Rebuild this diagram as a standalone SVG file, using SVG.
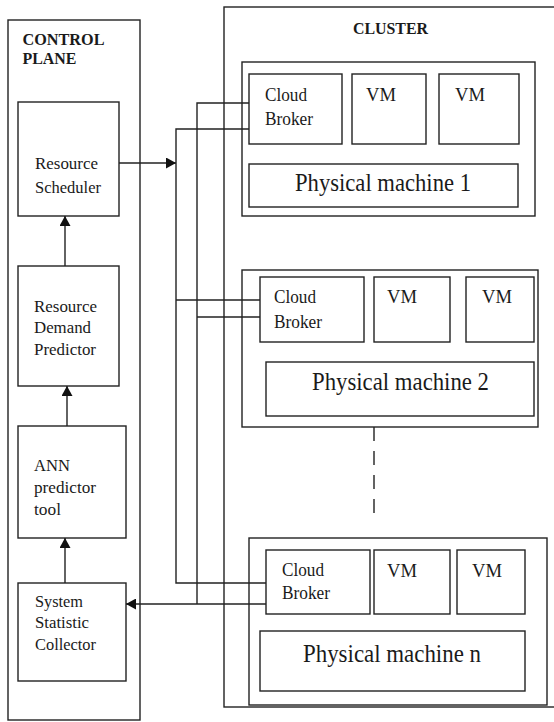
<svg xmlns="http://www.w3.org/2000/svg" width="554" height="722" viewBox="0 0 554 722">
<style>
  .box{fill:#fff;stroke:#222;stroke-width:1.4}
  .frame{fill:none;stroke:#222;stroke-width:1.4}
  .wire{fill:none;stroke:#222;stroke-width:1.4}
  text{fill:#1a1a1a}
  .cp{font-size:17.5px}
  .cl{font-size:18.5px}
  .pm{font-size:25px}
  .hd{font-size:17.5px;font-weight:bold}
</style>
<defs>
  <marker id="ah" markerUnits="userSpaceOnUse" markerWidth="11" markerHeight="11" refX="10" refY="5.5" orient="auto">
    <path d="M0,0 L10,5.5 L0,11 Z" fill="#111"/>
  </marker>
</defs>
<rect width="554" height="722" fill="#fff"/>
<g font-family="Liberation Serif, Times New Roman, serif">
<g id="control-plane">
  <rect class="frame" x="8" y="20" width="132" height="700"/>
  <text class="hd" x="22.5" y="45" textLength="82" lengthAdjust="spacingAndGlyphs">CONTROL</text>
  <text class="hd" x="22.5" y="63.5" textLength="54" lengthAdjust="spacingAndGlyphs">PLANE</text>
</g>

<g id="cluster">
  <rect class="frame" x="224" y="7" width="340" height="700"/>
  <text class="hd" x="353" y="34" textLength="75" lengthAdjust="spacingAndGlyphs">CLUSTER</text>
</g>

<g id="resource-scheduler">
  <rect class="box" x="18" y="102" width="101" height="114"/>
  <text class="cp" x="35" y="169" textLength="63" lengthAdjust="spacingAndGlyphs">Resource</text>
  <text class="cp" x="35" y="193" textLength="66" lengthAdjust="spacingAndGlyphs">Scheduler</text>
</g>

<g id="resource-demand-predictor">
  <rect class="box" x="18" y="266" width="101" height="120"/>
  <text class="cp" x="34" y="312" textLength="63" lengthAdjust="spacingAndGlyphs">Resource</text>
  <text class="cp" x="34" y="333" textLength="57" lengthAdjust="spacingAndGlyphs">Demand</text>
  <text class="cp" x="34" y="355" textLength="62" lengthAdjust="spacingAndGlyphs">Predictor</text>
</g>

<g id="ann-predictor-tool">
  <rect class="box" x="18" y="426" width="108" height="112"/>
  <text class="cp" x="34" y="471" textLength="36" lengthAdjust="spacingAndGlyphs">ANN</text>
  <text class="cp" x="34" y="493" textLength="62" lengthAdjust="spacingAndGlyphs">predictor</text>
  <text class="cp" x="34" y="515" textLength="27" lengthAdjust="spacingAndGlyphs">tool</text>
</g>

<g id="system-statistic-collector">
  <rect class="box" x="18" y="583" width="108" height="98"/>
  <text class="cp" x="35" y="607" textLength="48" lengthAdjust="spacingAndGlyphs">System</text>
  <text class="cp" x="35" y="628" textLength="54" lengthAdjust="spacingAndGlyphs">Statistic</text>
  <text class="cp" x="35" y="650" textLength="61" lengthAdjust="spacingAndGlyphs">Collector</text>
</g>

<g id="physical-machine-1">
  <rect class="box" x="242" y="62" width="293" height="154"/>
  <g id="cloud-broker-1">
    <rect class="box" x="249" y="74" width="93" height="70"/>
    <text class="cl" x="265" y="101" textLength="42" lengthAdjust="spacingAndGlyphs">Cloud</text>
    <text class="cl" x="265" y="125" textLength="48" lengthAdjust="spacingAndGlyphs">Broker</text>
  </g>
  <g id="vm-1a">
    <rect class="box" x="352" y="74" width="74" height="70"/>
    <text class="cl" x="366" y="101" textLength="30" lengthAdjust="spacingAndGlyphs">VM</text>
  </g>
  <g id="vm-1b">
    <rect class="box" x="439" y="74" width="80" height="70"/>
    <text class="cl" x="455" y="101" textLength="30" lengthAdjust="spacingAndGlyphs">VM</text>
  </g>
  <rect class="box" x="249" y="164" width="269" height="43"/>
  <text class="pm" x="295" y="191" textLength="176" lengthAdjust="spacingAndGlyphs">Physical machine 1</text>
</g>

<g id="physical-machine-2">
  <rect class="box" x="242" y="270" width="296" height="157"/>
  <g id="cloud-broker-2">
    <rect class="box" x="260" y="277" width="104" height="65"/>
    <text class="cl" x="274" y="303" textLength="42" lengthAdjust="spacingAndGlyphs">Cloud</text>
    <text class="cl" x="274" y="328" textLength="48" lengthAdjust="spacingAndGlyphs">Broker</text>
  </g>
  <g id="vm-2a">
    <rect class="box" x="374" y="277" width="76" height="65"/>
    <text class="cl" x="387" y="303" textLength="30" lengthAdjust="spacingAndGlyphs">VM</text>
  </g>
  <g id="vm-2b">
    <rect class="box" x="466" y="277" width="68" height="65"/>
    <text class="cl" x="482" y="303" textLength="30" lengthAdjust="spacingAndGlyphs">VM</text>
  </g>
  <rect class="box" x="266" y="362" width="268" height="54"/>
  <text class="pm" x="312" y="390" textLength="177" lengthAdjust="spacingAndGlyphs">Physical machine 2</text>
</g>

<g id="physical-machine-n">
  <rect class="box" x="249" y="538" width="298" height="167"/>
  <g id="cloud-broker-n">
    <rect class="box" x="266" y="550" width="104" height="64"/>
    <text class="cl" x="282" y="576" textLength="42" lengthAdjust="spacingAndGlyphs">Cloud</text>
    <text class="cl" x="282" y="599" textLength="48" lengthAdjust="spacingAndGlyphs">Broker</text>
  </g>
  <g id="vm-na">
    <rect class="box" x="374" y="550" width="76" height="64"/>
    <text class="cl" x="387" y="577" textLength="30" lengthAdjust="spacingAndGlyphs">VM</text>
  </g>
  <g id="vm-nb">
    <rect class="box" x="457" y="550" width="68" height="64"/>
    <text class="cl" x="472" y="577" textLength="30" lengthAdjust="spacingAndGlyphs">VM</text>
  </g>
  <rect class="box" x="260" y="631" width="265" height="60"/>
  <text class="pm" x="303" y="662" textLength="178" lengthAdjust="spacingAndGlyphs">Physical machine n</text>
</g>
</g>

<g id="connectors">
  <line class="wire" x1="65" y1="266" x2="65" y2="216" marker-end="url(#ah)"/>
  <line class="wire" x1="67" y1="426" x2="67" y2="386" marker-end="url(#ah)"/>
  <line class="wire" x1="65" y1="583" x2="65" y2="538" marker-end="url(#ah)"/>
  <line class="wire" x1="119" y1="163" x2="176" y2="163" marker-end="url(#ah)"/>
  <line class="wire" x1="266" y1="604" x2="126" y2="604" marker-end="url(#ah)"/>
  <polyline class="wire" points="249,129 176,129 176,583 266,583"/>
  <polyline class="wire" points="249,103 197,103 197,604"/>
  <line class="wire" x1="176" y1="300" x2="260" y2="300"/>
  <line class="wire" x1="197" y1="317" x2="260" y2="317"/>
  <line class="wire" x1="374" y1="427" x2="374" y2="520" stroke-dasharray="14 10"/>
</g>
</svg>
